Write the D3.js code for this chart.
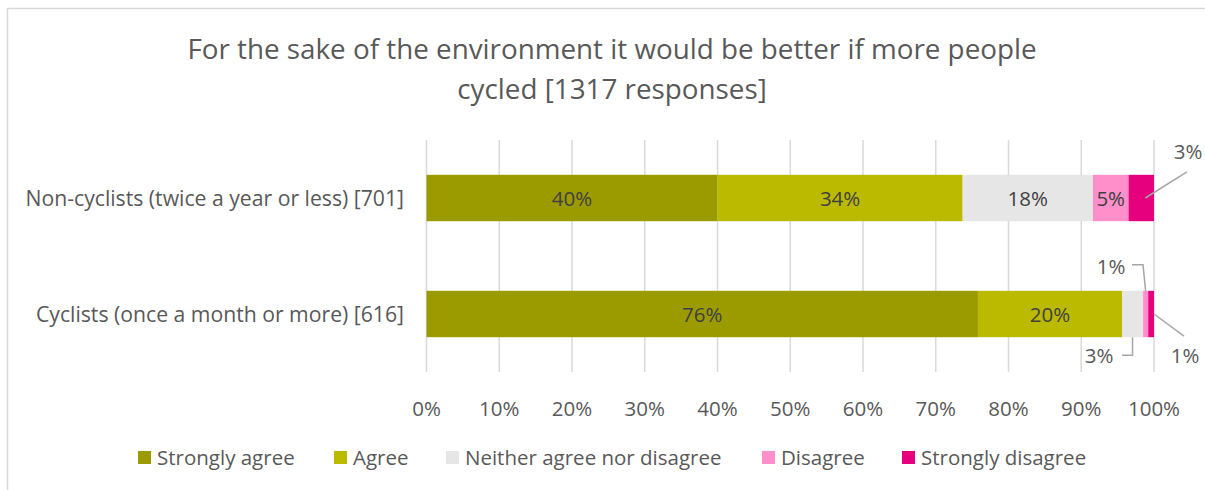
<!DOCTYPE html>
<html><head><meta charset="utf-8">
<script src="https://cdn.jsdelivr.net/npm/d3@7"></script>
<style>body{margin:0;background:#fff}svg{display:block}text{font-family:"Open Sans",sans-serif}</style>
</head><body><svg id="c" width="1205" height="490"></svg>
<script>
const categories = ["Non-cyclists (twice a year or less) [701]", "Cyclists (once a month or more) [616]"];
const seriesNames = ["Strongly agree", "Agree", "Neither agree nor disagree", "Disagree", "Strongly disagree"];
const strongAgree = [40.0, 75.8];
const agree = [33.7, 19.8];
const neither = [17.9, 2.9];
const disagree = [4.9, 0.7];
const strongDisagree = [3.5, 0.8];
const labels = [["40%","34%","18%","5%","3%"],["76%","20%","3%","1%","1%"]];
const tickValues = [0,10,20,30,40,50,60,70,80,90,100];
const colors = ["#9B9B00","#BBBA00","#E6E6E6","#FF8FCA","#E6007E"];
const titleLines = ["For the sake of the environment it would be better if more people","cycled [1317 responses]"];

const svg = d3.select("#c");
const txt = "#595959";
const fs = 20.5;
svg.append("path").attr("d","M7.5,490 V8.5 H1205").attr("fill","none").attr("stroke","#D9D9D9").attr("stroke-width",1.5);

svg.selectAll("text.title").data(titleLines).join("text")
  .attr("x",612).attr("y",(d,i)=>59+i*40).attr("text-anchor","middle")
  .attr("font-size",27.8).attr("fill",txt).text(d=>d);

const x = d3.scaleLinear().domain([0,100]).range([426.5,1154]);
const y = d3.scaleBand().domain(categories).range([140,372]).paddingInner(0.6).paddingOuter(0.3);

svg.append("g").selectAll("line").data(tickValues).join("line")
  .attr("x1",d=>x(d)).attr("x2",d=>x(d)).attr("y1",140).attr("y2",372)
  .attr("stroke","#D9D9D9").attr("stroke-width",1.5);

const series = [strongAgree, agree, neither, disagree, strongDisagree];
const rows = categories.map((c,i)=>{ const o={cat:c}; seriesNames.forEach((s,j)=>o[s]=series[j][i]); return o;});
const stack = d3.stack().keys(seriesNames)(rows);

const g = svg.append("g");
stack.forEach((layer,j)=>{
  g.selectAll(null).data(layer).join("rect")
    .attr("x",d=>x(d[0])).attr("width",d=>x(d[1])-x(d[0]))
    .attr("y",d=>y(d.data.cat)).attr("height",y.bandwidth())
    .attr("fill",colors[j]);
});

const inside = [[0,1,2,3],[0,1]];
stack.forEach((layer,j)=>{
  layer.forEach((d,i)=>{
    if(inside[i].includes(j)){
      svg.append("text").attr("x",(x(d[0])+x(d[1]))/2).attr("y",y(d.data.cat)+y.bandwidth()/2+7.5)
        .attr("text-anchor","middle").attr("font-size",fs).attr("fill","#404040").text(labels[i][j]);
    }
  });
});

const lc = "#A6A6A6";
function callout(pts){ svg.append("path").attr("d",d3.line()(pts)).attr("fill","none").attr("stroke",lc).attr("stroke-width",1.5);}
function lab(xp,yp,t,anchor){ svg.append("text").attr("x",xp).attr("y",yp).attr("text-anchor",anchor||"middle").attr("font-size",fs).attr("fill",txt).text(t);}
const r0 = y(categories[0]), r1 = y(categories[1]), bw = y.bandwidth();
const sd0 = stack[4][0];
callout([[ (x(sd0[0])+x(sd0[1]))/2+4, r0+bw/2 ],[1187, r0-3]]);
lab(1188, r0-16, labels[0][4]);
const n1 = stack[2][1];
callout([[ (x(n1[0])+x(n1[1]))/2, r1+bw ],[ (x(n1[0])+x(n1[1]))/2, r1+bw+18 ],[1122, r1+bw+18]]);
lab(1099, r1+bw+26, labels[1][2]);
const d1 = stack[3][1];
callout([[ (x(d1[0])+x(d1[1]))/2, r1 ],[1143, r1-26],[1132, r1-26]]);
lab(1111, r1-17, labels[1][3]);
const s1 = stack[4][1];
callout([[ x(s1[1]), r1+bw/2 ],[1184, r1+bw-1]]);
lab(1185, r1+bw+26, labels[1][4]);

svg.selectAll("text.cat").data(categories).join("text")
  .attr("x",404).attr("y",d=>y(d)+bw/2+7.5).attr("text-anchor","end")
  .attr("font-size",21.2).attr("fill",txt).text(d=>d);

svg.selectAll("text.tick").data(tickValues).join("text")
  .attr("x",d=>x(d)).attr("y",416).attr("text-anchor","middle")
  .attr("font-size",fs).attr("fill",txt).text(d=>d+"%");

const legX = [138, 334, 446, 762, 902];
seriesNames.forEach((s,j)=>{
  svg.append("rect").attr("x",legX[j]).attr("y",451).attr("width",13).attr("height",13).attr("fill",colors[j]);
  svg.append("text").attr("x",legX[j]+19).attr("y",465).attr("font-size",fs).attr("fill",txt).text(s);
});
</script></body></html>
